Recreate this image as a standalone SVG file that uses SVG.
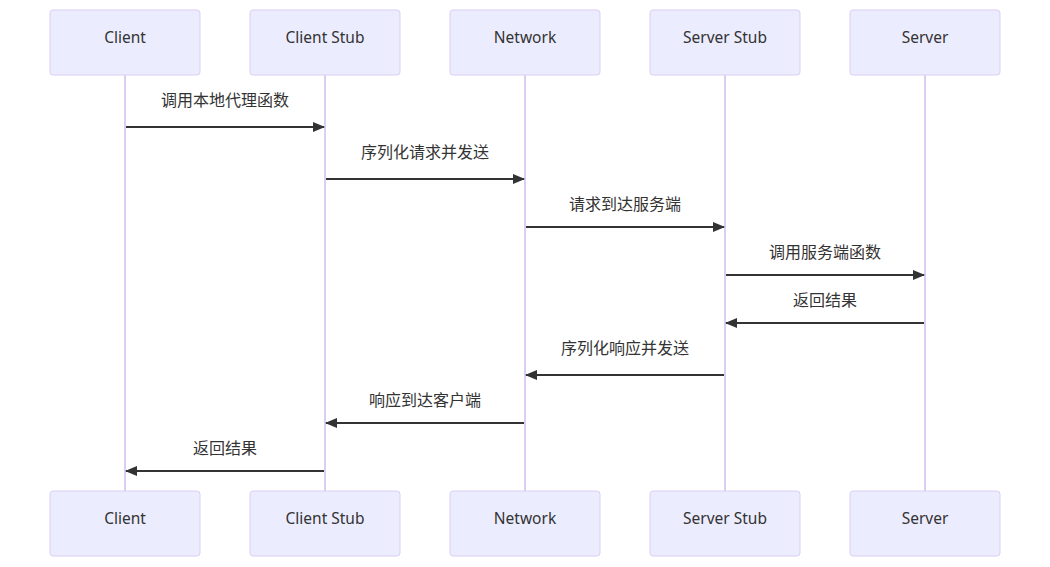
<svg xmlns="http://www.w3.org/2000/svg" width="1050" height="567" viewBox="0 0 1050 567">
<defs>
<style>
.actor{fill:#ECECFF;stroke:#DACEF3;stroke-width:1}
.atext{font-family:"Noto Sans","Noto Sans CJK SC",sans-serif;font-size:15.5px;fill:#333;text-anchor:middle;dominant-baseline:central}
.life{stroke:#DACEF3;stroke-width:2}
.msg{stroke:#333;stroke-width:2;fill:none}
.mtext{font-family:"Noto Sans","Noto Sans CJK SC",sans-serif;font-size:16px;fill:#333;text-anchor:middle;dominant-baseline:central}
</style>
<marker id="ah" viewBox="0 0 12 10" refX="11" refY="5" markerWidth="12" markerHeight="10" markerUnits="userSpaceOnUse" orient="auto">
<path d="M0,0 L12,5 L0,10 Z" fill="#333"/>
</marker>
</defs>
<rect width="1050" height="567" fill="#fff"/>
<g id="lifelines">
<line class="life" x1="125" y1="75" x2="125" y2="491"/>
<line class="life" x1="325" y1="75" x2="325" y2="491"/>
<line class="life" x1="525" y1="75" x2="525" y2="491"/>
<line class="life" x1="725" y1="75" x2="725" y2="491"/>
<line class="life" x1="925" y1="75" x2="925" y2="491"/>
</g>
<g id="client"><rect class="actor" x="50" y="10" width="150" height="65" rx="3"/><text class="atext" x="125" y="37">Client</text></g>
<g id="clientstub"><rect class="actor" x="250" y="10" width="150" height="65" rx="3"/><text class="atext" x="325" y="37">Client Stub</text></g>
<g id="network"><rect class="actor" x="450" y="10" width="150" height="65" rx="3"/><text class="atext" x="525" y="37">Network</text></g>
<g id="serverstub"><rect class="actor" x="650" y="10" width="150" height="65" rx="3"/><text class="atext" x="725" y="37">Server Stub</text></g>
<g id="server"><rect class="actor" x="850" y="10" width="150" height="65" rx="3"/><text class="atext" x="925" y="37">Server</text></g>
<g id="client-bottom"><rect class="actor" x="50" y="491" width="150" height="65" rx="3"/><text class="atext" x="125" y="518">Client</text></g>
<g id="clientstub-bottom"><rect class="actor" x="250" y="491" width="150" height="65" rx="3"/><text class="atext" x="325" y="518">Client Stub</text></g>
<g id="network-bottom"><rect class="actor" x="450" y="491" width="150" height="65" rx="3"/><text class="atext" x="525" y="518">Network</text></g>
<g id="serverstub-bottom"><rect class="actor" x="650" y="491" width="150" height="65" rx="3"/><text class="atext" x="725" y="518">Server Stub</text></g>
<g id="server-bottom"><rect class="actor" x="850" y="491" width="150" height="65" rx="3"/><text class="atext" x="925" y="518">Server</text></g>
<g id="connectors">
<line class="msg" x1="126" y1="127" x2="324" y2="127" marker-end="url(#ah)"/>
<text class="mtext" x="225" y="100">调用本地代理函数</text>
<line class="msg" x1="326" y1="179" x2="524" y2="179" marker-end="url(#ah)"/>
<text class="mtext" x="425" y="152">序列化请求并发送</text>
<line class="msg" x1="526" y1="227" x2="724" y2="227" marker-end="url(#ah)"/>
<text class="mtext" x="625" y="204">请求到达服务端</text>
<line class="msg" x1="726" y1="275" x2="924" y2="275" marker-end="url(#ah)"/>
<text class="mtext" x="825" y="252">调用服务端函数</text>
<line class="msg" x1="924" y1="323" x2="726" y2="323" marker-end="url(#ah)"/>
<text class="mtext" x="825" y="300">返回结果</text>
<line class="msg" x1="724" y1="375" x2="526" y2="375" marker-end="url(#ah)"/>
<text class="mtext" x="625" y="348">序列化响应并发送</text>
<line class="msg" x1="524" y1="423" x2="326" y2="423" marker-end="url(#ah)"/>
<text class="mtext" x="425" y="400">响应到达客户端</text>
<line class="msg" x1="324" y1="471" x2="126" y2="471" marker-end="url(#ah)"/>
<text class="mtext" x="225" y="448">返回结果</text>
</g>
</svg>
